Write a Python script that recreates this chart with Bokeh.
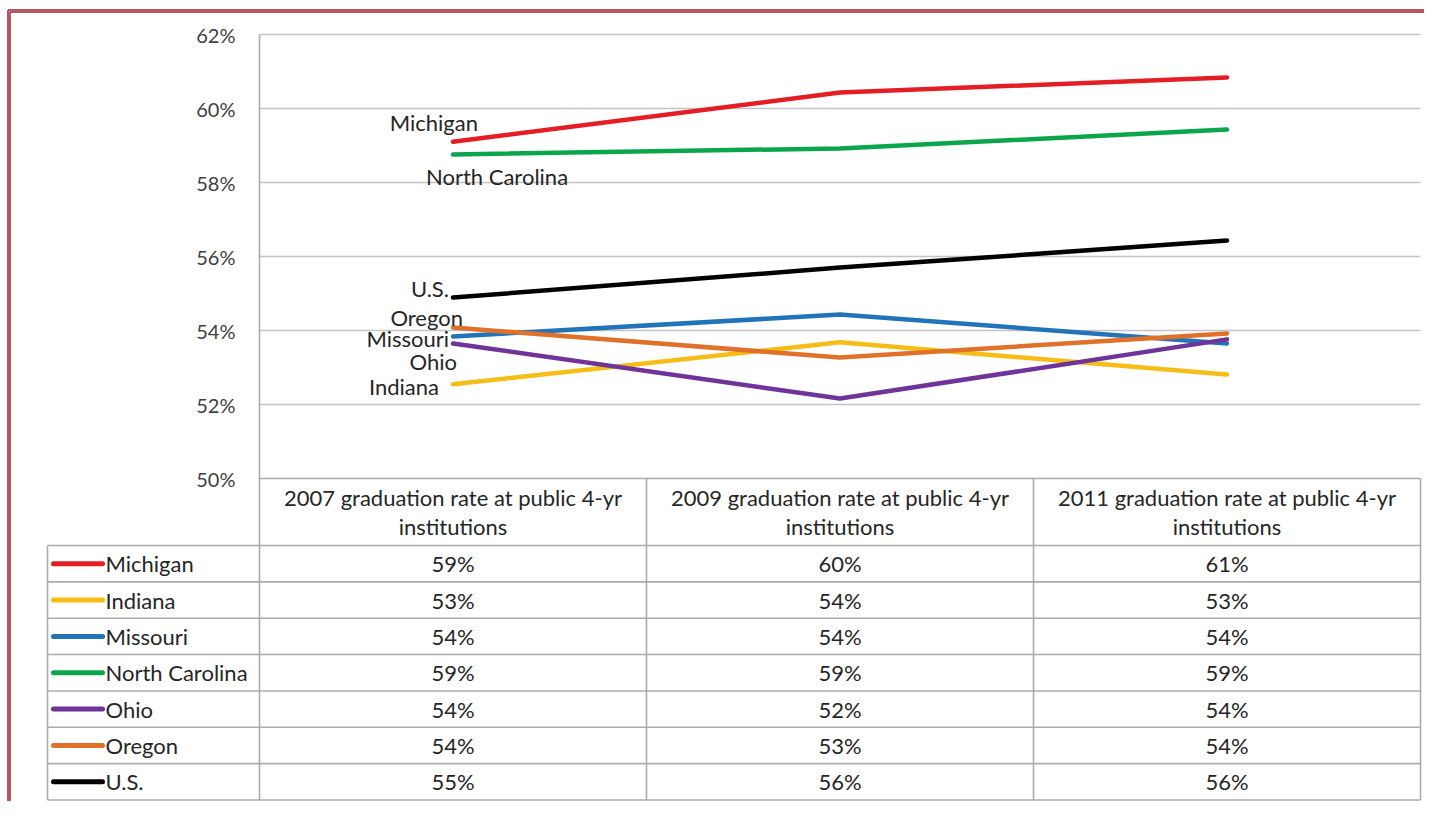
from bokeh.plotting import figure
from bokeh.models import Range1d
from bokeh.core.properties import value
from bokeh.embed import file_html
from bokeh.resources import INLINE

# ---------------- data ----------------
series = ["Michigan", "Indiana", "Missouri", "North Carolina", "Ohio", "Oregon", "U.S."]
years = ["2007", "2009", "2011"]
col_label = "graduation rate at public 4-yr institutions"

michigan = [59.10, 60.43, 60.84]
indiana = [52.55, 53.68, 52.81]
missouri = [53.84, 54.43, 53.65]
north_carolina = [58.76, 58.92, 59.43]
ohio = [53.65, 52.16, 53.76]
oregon = [54.08, 53.27, 53.92]
us = [54.89, 55.70, 56.43]

y_ticks = [50, 52, 54, 56, 58, 60, 62]
y_tick_labels = ["50%", "52%", "54%", "56%", "58%", "60%", "62%"]

values = [michigan, indiana, missouri, north_carolina, ohio, oregon, us]
colors = ["#e31e25", "#f7bd17", "#2274b8", "#0ba54c", "#6f3399", "#e0712a", "#000000"]

# ---------------- geometry (picture pixels) ----------------
W, H = 1424, 801
XU = 387.0            # px per category
YU = 37.0             # px per percentage point
XS = -0.5 - 259 / XU
YE = 62 + 34 / YU


def X(px):
    return XS + px / XU


def Y(py):
    return YE - py / YU


FONT = value("Lato")
TXT = "#262626"
FS = "22px"
FS_TICK = "20px"

p = figure(width=W, height=H, output_backend="svg", toolbar_location=None,
           x_range=Range1d(XS, XS + W / XU), y_range=Range1d(YE - H / YU, YE),
           x_axis_location=None, y_axis_location=None, min_border=0)
p.xgrid.visible = False
p.ygrid.visible = False
p.outline_line_color = None
p.background_fill_color = "white"
p.border_fill_color = "white"

n = len(years)
x_idx = list(range(n))

# gridlines (50% line is table top, drawn later)
gl = [t for t in y_ticks if t != y_ticks[0]]
p.segment(x0=[-0.5] * len(gl), y0=gl, x1=[n - 0.5] * len(gl), y1=gl,
          line_color="#c4c4c4", line_width=1.6)

# tick labels
p.text(x=[-0.5] * len(y_ticks), y=y_ticks, text=y_tick_labels, x_offset=-24,
       text_align="right", text_baseline="middle", text_font=FONT,
       text_font_size=FS_TICK, text_color="#404040")

# ---------------- table ----------------
TL = 47                 # table left
HB = 545                # header bottom
TB = 799.5              # table bottom
RH = (TB - HB) / len(series)
tcol = "#ababab"
hy = [Y(478)] + [Y(HB + i * RH) for i in range(len(series) + 1)]
hx0 = [-0.5] + [X(TL)] * (len(series) + 1)
p.segment(x0=hx0, y0=hy, x1=[n - 0.5] * len(hy), y1=hy, line_color=tcol, line_width=1.6)
p.segment(x0=[-0.5], y0=[y_ticks[-1]], x1=[-0.5], y1=[Y(TB)], line_color=tcol, line_width=1.6)
p.segment(x0=[X(TL)], y0=[Y(HB)], x1=[X(TL)], y1=[Y(TB)], line_color=tcol, line_width=1.6)
vx = [j + 0.5 for j in range(n)]
p.segment(x0=vx, y0=[y_ticks[0]] * n, x1=vx, y1=[Y(TB)] * n, line_color=tcol, line_width=1.6)

# header text
words = col_label.split(" ")
line1_tail = " ".join(words[:-1])
line2 = words[-1]
p.text(x=x_idx, y=[Y(497)] * n, text=[f"{yr} {line1_tail}" for yr in years],
       text_align="center", text_baseline="middle", text_font=FONT,
       text_font_size=FS, text_color=TXT)
p.text(x=x_idx, y=[Y(526)] * n, text=[line2] * n,
       text_align="center", text_baseline="middle", text_font=FONT,
       text_font_size=FS, text_color=TXT)

# rows
for i, (name, vals, c) in enumerate(zip(series, values, colors)):
    yc = Y(HB + (i + 0.5) * RH)
    p.segment(x0=[X(53)], y0=[yc], x1=[X(102)], y1=[yc], line_color=c,
              line_width=5, line_cap="round")
    p.text(x=[X(105)], y=[yc], text=[name], text_align="left", text_baseline="middle",
           text_font=FONT, text_font_size=FS, text_color=TXT)
    p.text(x=x_idx, y=[yc] * n, text=[f"{round(v)}%" for v in vals],
           text_align="center", text_baseline="middle", text_font=FONT,
           text_font_size=FS, text_color=TXT)

# ---------------- data lines ----------------
for vals, c in zip(values, colors):
    p.line(x=x_idx, y=vals, line_color=c, line_width=4.5, line_cap="round", line_join="round")

# data labels at first point (offsets in px, alignment)
label_style = {
    "Michigan": (25, -19, "right"),
    "Indiana": (-14, 2, "right"),
    "Missouri": (-4, 2, "right"),
    "North Carolina": (-27, 22, "left"),
    "Ohio": (4, 18, "right"),
    "Oregon": (10, -10, "right"),
    "U.S.": (-4, -9, "right"),
}
for name, vals in zip(series, values):
    dx, dy, al = label_style[name]
    p.text(x=[x_idx[0]], y=[vals[0]], text=[name], x_offset=dx, y_offset=dy,
           text_align=al, text_baseline="middle", text_font=FONT,
           text_font_size=FS, text_color=TXT)

# ---------------- dark red double frame (left & top only) ----------------
fc = "#9e1f33"
p.segment(x0=[X(7.5), X(9.5)], y0=[Y(9.5), Y(11.5)], x1=[X(7.5), X(9.5)], y1=[Y(H), Y(H)],
          line_color=fc, line_width=1.5)
p.segment(x0=[X(7.5), X(9.5)], y0=[Y(9.5), Y(11.5)], x1=[X(W), X(W)], y1=[Y(9.5), Y(11.5)],
          line_color=fc, line_width=1.5)

open("out.html", "w").write(file_html(p, INLINE))
